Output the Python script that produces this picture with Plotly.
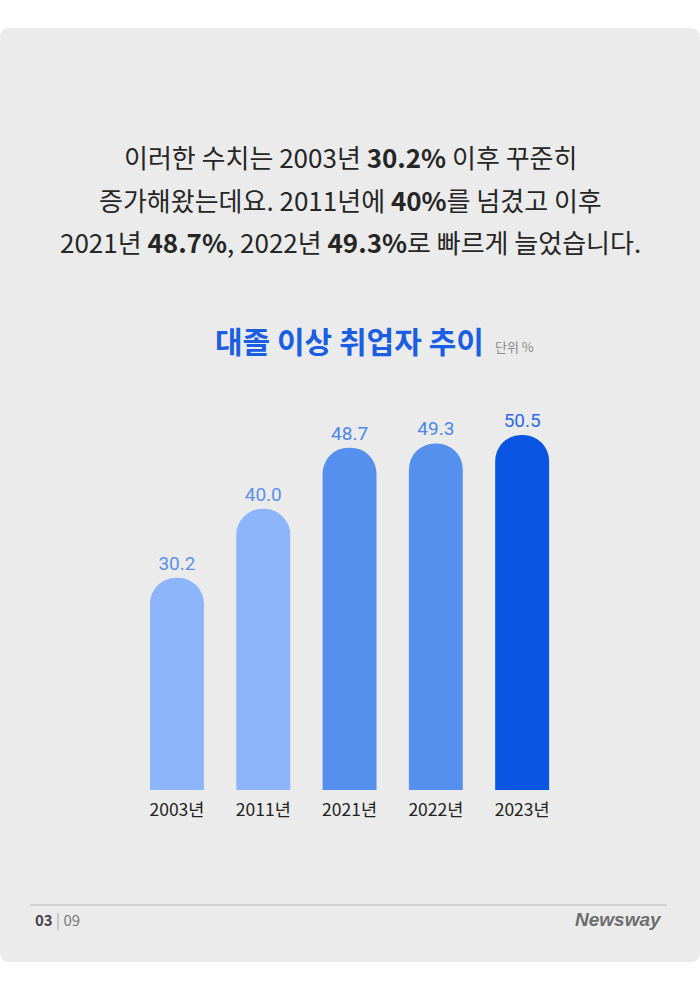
import plotly.graph_objects as go

years = ["2003년", "2011년", "2021년", "2022년", "2023년"]
values = [30.2, 40.0, 48.7, 49.3, 50.5]
colors = ["#8cb5fb", "#8cb5fb", "#5590ee", "#5590ee", "#0a56e2"]
label_colors = ["#5b8ff0", "#5b8ff0", "#4a86ec", "#4a86ec", "#2d6be6"]

W, H = 700, 990
fig = go.Figure(go.Bar(
    x=years, y=values, marker=dict(color=colors, cornerradius=27, line_width=0),
    width=0.625, text=[f"{v:.1f}" for v in values], textposition="outside",
    textfont=dict(size=19, color=label_colors, family="Roboto"), cliponaxis=False,
))
fig.update_layout(
    width=W, height=H, margin=dict(l=0, r=0, t=0, b=0),
    paper_bgcolor="white", plot_bgcolor="rgba(0,0,0,0)", showlegend=False,
    font=dict(family="Noto Sans CJK KR"),
    xaxis=dict(domain=[133.8/W, 565.3/W], range=[-0.5, 4.5], showgrid=False,
               showline=False, ticks="", ticklabelstandoff=7,
               tickfont=dict(size=17.5, color="#222")),
    yaxis=dict(domain=[(H-790)/H, (H-368.2)/H], range=[0, 60], visible=False),
    shapes=[
        dict(type="path", xref="paper", yref="paper", layer="below",
             path="M 0.0143,0.0283 L 0.9857,0.0283 Q 1,0.0283 1,0.0384 L 1,0.9616 Q 1,0.9717 0.9857,0.9717 L 0.0143,0.9717 Q 0,0.9717 0,0.9616 L 0,0.0384 Q 0,0.0283 0.0143,0.0283 Z",
             fillcolor="#ebebeb", line_width=0),
        dict(type="line", xref="paper", yref="paper", x0=30/W, x1=667/W,
             y0=1-905/H, y1=1-905/H, line=dict(color="#b5b5b5", width=1)),
    ],
)
lines = ["이러한 수치는 2003년 <b>30.2%</b> 이후 꾸준히",
         "증가해왔는데요. 2011년에 <b>40%</b>를 넘겼고 이후",
         "2021년 <b>48.7%</b>, 2022년 <b>49.3%</b>로 빠르게 늘었습니다."]
for i, t in enumerate(lines):
    fig.add_annotation(text=t, x=0.5, y=1-(136+42.5*i)/H, xref="paper", yref="paper",
                       showarrow=False, font=dict(size=26, color="#262626"))
fig.add_annotation(text="<b>대졸 이상 취업자 추이</b>", x=349/W, y=1-340/H, xref="paper", yref="paper",
                   showarrow=False, font=dict(size=30, color="#1a5fe3"))
fig.add_annotation(text="단위 %", x=493/W, y=1-346/H, xref="paper", yref="paper", xanchor="left",
                   showarrow=False, font=dict(size=13, color="#8a8a8a"))
fig.add_annotation(text="<b>03</b> <span style='color:#aaa'>|</span> <span style='color:#777'>09</span>",
                   x=33/W, y=1-932/H, xref="paper", yref="paper", xanchor="left",
                   showarrow=False, font=dict(size=15, color="#444"))
fig.add_annotation(text="<b><i>Newsway</i></b>", x=664/W, y=1-932/H, xref="paper", yref="paper",
                   xanchor="right", showarrow=False, font=dict(size=19, color="#6d6d6d", family="Liberation Sans"))
fig.write_html("out.html", config={"displayModeBar": False},
               post_script="document.body.style.margin='0';")
